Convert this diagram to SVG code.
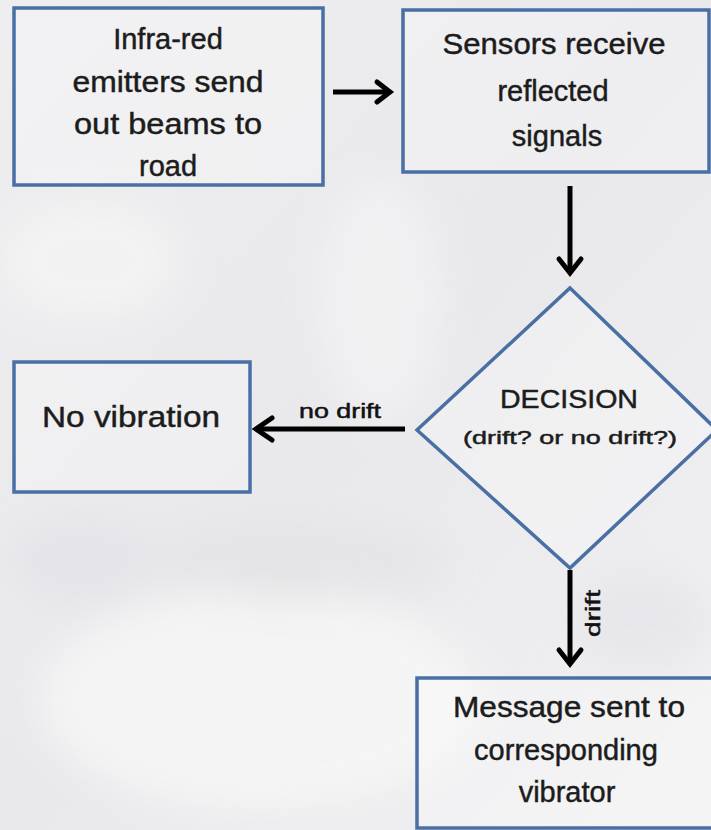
<svg xmlns="http://www.w3.org/2000/svg" width="711" height="830" viewBox="0 0 711 830">
<defs>
<style>
.box{fill:#ffffff;fill-opacity:0.25;stroke:#4a6fa5;stroke-width:3.5}
.t{font-family:"Liberation Sans",Arial,sans-serif;fill:#1c1c1c;text-anchor:middle;stroke:#1c1c1c;stroke-width:0.45}
.big{font-size:29px}
.lbl{font-family:"Liberation Sans",Arial,sans-serif;font-size:21px;fill:#111;stroke:#111;stroke-width:0.5}
.ln{stroke:#000;stroke-width:5;fill:none}
.hd{stroke:#000;stroke-width:5;fill:none;stroke-linecap:round;stroke-linejoin:miter}
</style>
<linearGradient id="bg" x1="0" y1="0" x2="1" y2="1">
<stop offset="0" stop-color="#eeeef0"/>
<stop offset="0.5" stop-color="#e9e9ec"/>
<stop offset="1" stop-color="#f1f1f2"/>
</linearGradient>
<filter id="blur" x="-50%" y="-50%" width="200%" height="200%"><feGaussianBlur stdDeviation="18"/></filter>
</defs>
<rect x="0" y="0" width="711" height="830" fill="url(#bg)"/>
<g filter="url(#blur)" opacity="0.8">
<ellipse cx="260" cy="700" rx="220" ry="110" fill="#f7f7f7"/>
<ellipse cx="90" cy="260" rx="90" ry="60" fill="#f4f4f4"/>
<ellipse cx="300" cy="560" rx="150" ry="40" fill="#e4e4e6"/>
<ellipse cx="380" cy="300" rx="60" ry="120" fill="#f3f3f4"/>
<ellipse cx="640" cy="620" rx="70" ry="50" fill="#e6e6ea"/>
<ellipse cx="80" cy="560" rx="70" ry="40" fill="#e3e3e8"/>
</g>

<g id="connectors">
<line class="ln" x1="333" y1="92" x2="388" y2="92"/>
<polyline class="hd" points="377,82 390,92 377,102"/>
<line class="ln" x1="570" y1="186" x2="570" y2="272"/>
<polyline class="hd" points="559,259 570,273 581,259"/>
<line class="ln" x1="405" y1="429" x2="258" y2="429"/>
<polyline class="hd" points="272,418 256,429 272,440"/>
<text class="lbl" x="299" y="418" textLength="82" lengthAdjust="spacingAndGlyphs">no drift</text>
<line class="ln" x1="570" y1="570" x2="570" y2="662"/>
<polyline class="hd" points="559,650 570,664 581,650"/>
<text class="lbl" transform="translate(600,637) rotate(-90)" textLength="47" lengthAdjust="spacingAndGlyphs">drift</text>
</g>

<g id="node-emitters">
<rect class="box" x="14" y="8" width="309" height="177"/>
<text class="t big" x="168" y="49">Infra-red</text>
<text class="t big" x="168" y="92" textLength="191" lengthAdjust="spacingAndGlyphs">emitters send</text>
<text class="t big" x="168" y="134" textLength="188" lengthAdjust="spacingAndGlyphs">out beams to</text>
<text class="t big" x="168" y="176">road</text>
</g>

<g id="node-sensors">
<rect class="box" x="403" y="10" width="306" height="162"/>
<text class="t big" x="554" y="54" textLength="223" lengthAdjust="spacingAndGlyphs">Sensors receive</text>
<text class="t big" x="553" y="101">reflected</text>
<text class="t big" x="557" y="146">signals</text>
</g>

<g id="node-decision">
<polygon class="box" points="570,288 717,430 570,568 417,430"/>
<text class="t" font-size="25" x="569" y="408" textLength="138" lengthAdjust="spacingAndGlyphs">DECISION</text>
<text class="t" font-size="18" x="570" y="444" textLength="214" lengthAdjust="spacingAndGlyphs">(drift? or no drift?)</text>
</g>

<g id="node-novibration">
<rect class="box" x="14" y="362" width="236" height="130"/>
<text class="t big" x="131" y="427" textLength="178" lengthAdjust="spacingAndGlyphs">No vibration</text>
</g>

<g id="node-message">
<rect class="box" x="417" y="678" width="300" height="150"/>
<text class="t big" x="569" y="717" textLength="232" lengthAdjust="spacingAndGlyphs">Message sent to</text>
<text class="t big" x="566" y="760">corresponding</text>
<text class="t big" x="567" y="802">vibrator</text>
</g>
</svg>
